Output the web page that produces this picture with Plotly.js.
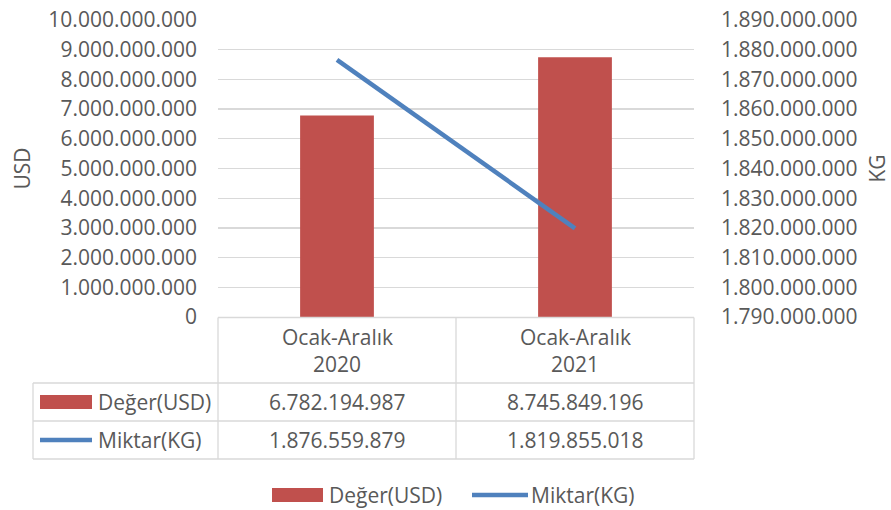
<!DOCTYPE html>
<html>
<head>
<meta charset="utf-8">
<script src="https://cdn.plot.ly/plotly-3.0.1.min.js"></script>
<style>
  html, body { margin: 0; padding: 0; background: #ffffff; }
  #chart { width: 891px; height: 510px; }
</style>
</head>
<body>
<div id="chart"></div>
<script>
// ---- data ----
const categories = ["Ocak-Aralık<br>2020", "Ocak-Aralık<br>2021"];
const degerUSD = [6782194987, 8745849196];
const miktarKG = [1876559879, 1819855018];
const seriesNames = ["Değer(USD)", "Miktar(KG)"];
const yTitleLeft = "USD";
const yTitleRight = "KG";

// ---- layout constants ----
const W = 891, H = 510;
const M = { l: 218, r: 197, t: 20, b: 193 };
const PW = W - M.l - M.r, PH = H - M.t - M.b;
const px2x = px => (px - M.l) / PW;
const px2y = py => (H - M.b - py) / PH;

const textColor = "#595959";
const gridColor = "#d9d9d9";
const barColor = "#C0504D";
const lineColor = "#4F81BD";
const FONT = "Open Sans, sans-serif";
const FS = 21;

const fmt = v => String(v).replace(/\B(?=(\d{3})+(?!\d))/g, ".");

const traces = [
  {
    type: "bar", name: seriesNames[0], x: categories, y: degerUSD,
    marker: { color: barColor }, width: 0.31, yaxis: "y", showlegend: false,
    hoverinfo: "skip"
  },
  {
    type: "scatter", mode: "lines", name: seriesNames[1], x: categories, y: miktarKG,
    line: { color: lineColor, width: 4.5 }, yaxis: "y2", showlegend: false,
    hoverinfo: "skip"
  }
];

const shapes = [];
const annotations = [];
const L = (x0, y0, x1, y1) => shapes.push({
  type: "line", xref: "paper", yref: "paper",
  x0: px2x(x0), y0: px2y(y0), x1: px2x(x1), y1: px2y(y1),
  line: { color: gridColor, width: 1.3 }
});

// table borders
L(218, 317.5, 694, 317.5);
L(33, 383, 694, 383);
L(33, 421, 694, 421);
L(33, 459, 694, 459);
L(33, 383, 33, 459);
L(218, 317.5, 218, 459);
L(456, 317.5, 456, 459);
L(694, 317.5, 694, 459);

// header row & values
categories.forEach((c, i) => {
  const parts = c.split("<br>");
  annotations.push({ xref: "x", yref: "paper", x: c, y: px2y(337), text: parts[0],
    showarrow: false, xanchor: "center", yanchor: "middle", font: { family: FONT, size: FS, color: textColor } });
  annotations.push({ xref: "x", yref: "paper", x: c, y: px2y(364), text: parts[1],
    showarrow: false, xanchor: "center", yanchor: "middle", font: { family: FONT, size: FS, color: textColor } });
  annotations.push({ xref: "x", yref: "paper", x: c, y: px2y(402), text: fmt(degerUSD[i]),
    showarrow: false, xanchor: "center", yanchor: "middle", font: { family: FONT, size: FS, color: textColor } });
  annotations.push({ xref: "x", yref: "paper", x: c, y: px2y(440), text: fmt(miktarKG[i]),
    showarrow: false, xanchor: "center", yanchor: "middle", font: { family: FONT, size: FS, color: textColor } });
});

// row keys
shapes.push({ type: "rect", xref: "paper", yref: "paper", x0: px2x(40), x1: px2x(92), y0: px2y(395), y1: px2y(409),
  fillcolor: barColor, line: { width: 0 } });
shapes.push({ type: "line", xref: "paper", yref: "paper", x0: px2x(40), x1: px2x(92), y0: px2y(440), y1: px2y(440),
  line: { color: lineColor, width: 4.5 } });
annotations.push({ xref: "paper", yref: "paper", x: px2x(96), y: px2y(402), text: seriesNames[0],
  showarrow: false, xanchor: "left", yanchor: "middle", font: { family: FONT, size: FS, color: textColor } });
annotations.push({ xref: "paper", yref: "paper", x: px2x(96), y: px2y(440), text: seriesNames[1],
  showarrow: false, xanchor: "left", yanchor: "middle", font: { family: FONT, size: FS, color: textColor } });

// bottom legend
shapes.push({ type: "rect", xref: "paper", yref: "paper", x0: px2x(272), x1: px2x(323), y0: px2y(488), y1: px2y(502),
  fillcolor: barColor, line: { width: 0 } });
shapes.push({ type: "line", xref: "paper", yref: "paper", x0: px2x(472), x1: px2x(528), y0: px2y(495), y1: px2y(495),
  line: { color: lineColor, width: 4.5 } });
annotations.push({ xref: "paper", yref: "paper", x: px2x(327), y: px2y(495), text: seriesNames[0],
  showarrow: false, xanchor: "left", yanchor: "middle", font: { family: FONT, size: FS, color: textColor } });
annotations.push({ xref: "paper", yref: "paper", x: px2x(529), y: px2y(495), text: seriesNames[1],
  showarrow: false, xanchor: "left", yanchor: "middle", font: { family: FONT, size: FS, color: textColor } });

const layout = {
  width: W, height: H,
  margin: M,
  paper_bgcolor: "#ffffff", plot_bgcolor: "#ffffff",
  separators: ",.",
  font: { family: FONT, size: FS, color: textColor },
  showlegend: false,
  xaxis: {
    type: "category", showticklabels: false, showgrid: false, zeroline: false,
    showline: false, ticks: "", fixedrange: true
  },
  yaxis: {
    range: [0, 1e10], dtick: 1e9, tick0: 0, tickformat: ",.0f",
    showgrid: true, gridcolor: gridColor, gridwidth: 1.3, zeroline: false, showline: false,
    ticks: "", ticklabelstandoff: 20,
    tickfont: { family: FONT, size: FS, color: textColor },
    title: { text: yTitleLeft, standoff: 12, font: { family: FONT, size: FS, color: textColor } },
    fixedrange: true
  },
  yaxis2: {
    overlaying: "y", side: "right",
    range: [1.79e9, 1.89e9], dtick: 1e7, tick0: 1.79e9, tickformat: ",.0f",
    showgrid: false, zeroline: false, showline: false, ticks: "", ticklabelstandoff: 26,
    tickfont: { family: FONT, size: FS, color: textColor },
    title: { text: yTitleRight, standoff: 16, font: { family: FONT, size: FS, color: textColor } },
    fixedrange: true
  },
  shapes: shapes,
  annotations: annotations
};

Plotly.newPlot("chart", traces, layout, { displayModeBar: false, staticPlot: true });
</script>
</body>
</html>
